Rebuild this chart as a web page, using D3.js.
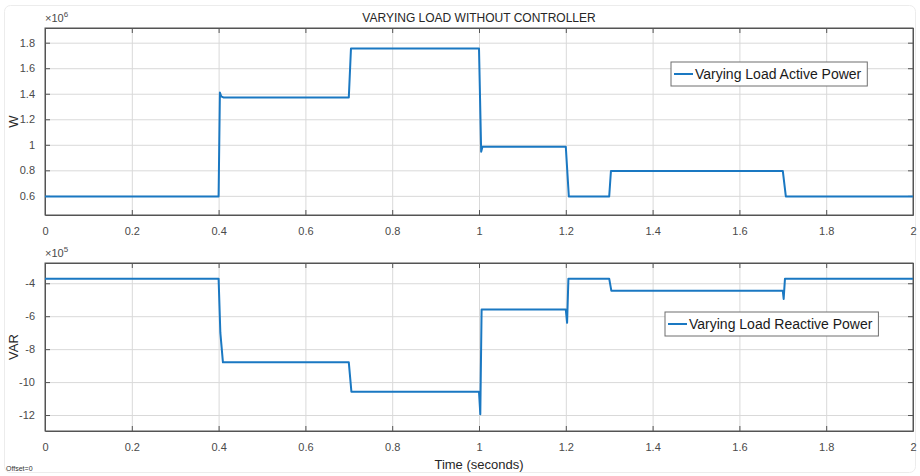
<!DOCTYPE html>
<html lang="en">
<head>
    <meta charset="UTF-8">
    <title>Varying load without controller</title>
    <style>
        body { margin: 0; background: #fff; }
        svg { display: block; font-family: "Liberation Sans", Arial, sans-serif; }
        .grid line { stroke: #d9d9d9; stroke-width: 1; }
        .grid .domain { display: none; }
        .axis text { fill: #4a4a4a; font-size: 11px; }
        .axis line, .axis path { stroke: #555; }
        .frame { fill: none; stroke: #555; stroke-width: 1; }
        .trace { fill: none; stroke: #1a78c2; stroke-width: 2; stroke-linejoin: round; }
    </style>
    <script src="https://cdn.jsdelivr.net/npm/d3@7"></script>
</head>
<body>
    <div id="chart"></div>
    <script>
        // values
        var xTicks = [0, 0.2, 0.4, 0.6, 0.8, 1, 1.2, 1.4, 1.6, 1.8, 2];

        // active power, x10^6 W
        var activeTime = [0, 0.4, 0.403, 0.406, 0.412, 0.7, 0.705, 1.0, 1.005, 1.008, 1.015, 1.2, 1.207, 1.3, 1.304, 1.7, 1.707, 2];
        var activeValue = [0.595, 0.595, 1.41, 1.38, 1.37, 1.37, 1.755, 1.755, 0.945, 0.985, 0.985, 0.985, 0.595, 0.595, 0.795, 0.795, 0.595, 0.595];
        var activeTicks = [0.6, 0.8, 1, 1.2, 1.4, 1.6, 1.8];

        // reactive power, x10^5 VAR
        var reactiveTime = [0, 0.4, 0.404, 0.41, 0.7, 0.706, 1.0, 1.003, 1.006, 1.2, 1.203, 1.206, 1.3, 1.305, 1.7, 1.702, 1.705, 2];
        var reactiveValue = [-3.72, -3.72, -7.0, -8.8, -8.8, -10.58, -10.58, -11.95, -5.6, -5.6, -6.4, -3.72, -3.72, -4.46, -4.46, -4.95, -3.72, -3.72];
        var reactiveTicks = [-12, -10, -8, -6, -4];

        var W = 920, H = 476;
        var svg = d3.select("#chart").append("svg")
            .attr("width", W)
            .attr("height", H);

        // light card frame around the figure
        svg.append("rect")
            .attr("x", 4.5).attr("y", 5.5)
            .attr("width", W - 9).attr("height", H - 9)
            .attr("rx", 6)
            .attr("fill", "#fff")
            .attr("stroke", "#ececec");

        var x = d3.scaleLinear().domain([0, 2]).range([45, 913]);

        function panel(opt) {
            var y = d3.scaleLinear().domain(opt.yDomain).range([opt.bottom, opt.top]);
            var g = svg.append("g");

            // grid
            g.append("g").attr("class", "grid")
                .attr("transform", "translate(0," + opt.bottom + ")")
                .call(d3.axisBottom(x).tickValues(xTicks).tickSize(-(opt.bottom - opt.top)).tickFormat(""));
            g.append("g").attr("class", "grid")
                .attr("transform", "translate(" + x.range()[0] + ",0)")
                .call(d3.axisLeft(y).tickValues(opt.yTicks).tickSize(-(x.range()[1] - x.range()[0])).tickFormat(""));

            // axes, ticks pointing inwards like matlab
            g.append("g").attr("class", "axis")
                .attr("transform", "translate(0," + opt.bottom + ")")
                .call(d3.axisBottom(x).tickValues(xTicks).tickSizeInner(-5).tickSizeOuter(0).tickPadding(12).tickFormat(d3.format("")));
            g.append("g").attr("class", "axis")
                .attr("transform", "translate(0," + opt.top + ")")
                .call(d3.axisTop(x).tickValues(xTicks).tickSizeInner(-5).tickSizeOuter(0).tickFormat(""));
            g.append("g").attr("class", "axis")
                .attr("transform", "translate(" + x.range()[0] + ",0)")
                .call(d3.axisLeft(y).tickValues(opt.yTicks).tickSizeInner(-5).tickSizeOuter(0).tickPadding(10).tickFormat(d3.format("")));
            g.append("g").attr("class", "axis")
                .attr("transform", "translate(" + x.range()[1] + ",0)")
                .call(d3.axisRight(y).tickValues(opt.yTicks).tickSizeInner(-5).tickSizeOuter(0).tickFormat(""));

            g.selectAll(".axis text").text(function () {
                return this.textContent.replace("\u2212", "-");
            });

            g.append("rect").attr("class", "frame")
                .attr("x", x.range()[0]).attr("y", opt.top)
                .attr("width", x.range()[1] - x.range()[0])
                .attr("height", opt.bottom - opt.top);

            // trace
            var pts = opt.t.map(function (t, i) { return [t, opt.v[i]]; });
            g.append("path").attr("class", "trace")
                .attr("d", d3.line().x(function (d) { return x(d[0]); }).y(function (d) { return y(d[1]); })(pts));

            // exponent
            var ex = g.append("text")
                .attr("x", x.range()[0]).attr("y", opt.top - 6)
                .attr("fill", "#4a4a4a").style("font-size", "11px");
            ex.append("tspan").text("\u00d710");
            ex.append("tspan").attr("dy", -5).style("font-size", "8px").text(opt.exp);

            // y label
            g.append("text")
                .attr("transform", "translate(18," + ((opt.top + opt.bottom) / 2) + ") rotate(-90)")
                .attr("text-anchor", "middle")
                .attr("fill", "#262626").style("font-size", "13px")
                .text(opt.label);

            // legend
            var lg = g.append("g").attr("transform", "translate(" + opt.legend[0] + "," + opt.legend[1] + ")");
            var lt = lg.append("text")
                .attr("x", 24).attr("y", 17)
                .attr("fill", "#1a1a1a").style("font-size", "14px")
                .text(opt.name);
            var bw = lt.node().getComputedTextLength() + 30;
            lg.insert("rect", "text")
                .attr("width", bw).attr("height", 24)
                .attr("fill", "#fff").attr("stroke", "#6e6e6e");
            lg.append("line")
                .attr("x1", 3).attr("x2", 22).attr("y1", 12).attr("y2", 12)
                .attr("stroke", "#1a78c2").attr("stroke-width", 2);
        }

        panel({
            top: 28, bottom: 215, yDomain: [0.45, 1.915], yTicks: activeTicks,
            t: activeTime, v: activeValue, exp: "6", label: "W",
            name: "Varying Load Active Power", legend: [671, 62]
        });
        panel({
            top: 263, bottom: 431, yDomain: [-12.97, -2.77], yTicks: reactiveTicks,
            t: reactiveTime, v: reactiveValue, exp: "5", label: "VAR",
            name: "Varying Load Reactive Power", legend: [665, 312]
        });

        svg.append("text")
            .attr("x", 479).attr("y", 22)
            .attr("text-anchor", "middle")
            .attr("fill", "#262626").style("font-size", "12px")
            .text("VARYING LOAD WITHOUT CONTROLLER");

        svg.append("text")
            .attr("x", 479).attr("y", 469)
            .attr("text-anchor", "middle")
            .attr("fill", "#262626").style("font-size", "13px")
            .text("Time (seconds)");

        svg.append("text")
            .attr("x", 6).attr("y", 471)
            .attr("fill", "#333").style("font-size", "7px")
            .text("Offset=0");
    </script>
</body>
</html>
